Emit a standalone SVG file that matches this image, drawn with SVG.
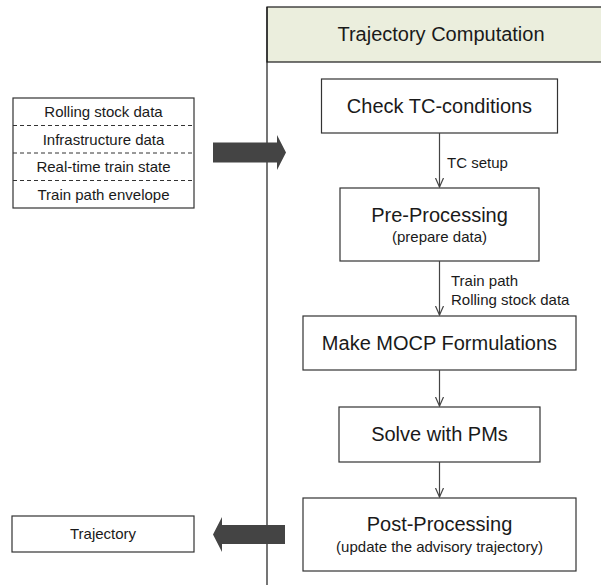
<svg xmlns="http://www.w3.org/2000/svg" width="601" height="585" viewBox="0 0 601 585">
<style>
.box{fill:#fff;stroke:#333;stroke-width:1.2}
.big{font-family:"Liberation Sans",Arial,sans-serif;font-size:20px;fill:#1a1a1a;text-anchor:middle}
.sm{font-family:"Liberation Sans",Arial,sans-serif;font-size:15px;fill:#1a1a1a;text-anchor:middle}
.lbl{font-family:"Liberation Sans",Arial,sans-serif;font-size:15px;fill:#1a1a1a}
.conn{stroke:#444;stroke-width:1.2;fill:none}
.fat{fill:#444}
</style>
<defs>
<marker id="open" markerWidth="10" markerHeight="14" refX="9" refY="7" orient="auto" markerUnits="userSpaceOnUse">
<path d="M0,3 L9,7 L0,11" fill="none" stroke="#444" stroke-width="1.2"/>
</marker>
</defs>
<rect width="601" height="585" fill="#fff"/>
<g id="lane">
<rect x="267" y="7" width="340" height="55" fill="#ebeedd" stroke="#1a1a1a" stroke-width="1.2"/>
<line x1="267" y1="7" x2="267" y2="585" stroke="#1a1a1a" stroke-width="1.2"/>
<text class="big" x="441" y="41">Trajectory Computation</text>
</g>
<g id="inputs">
<rect class="box" x="13" y="98" width="181" height="110"/>
<g stroke="#333" stroke-width="1" stroke-dasharray="4,3">
<line x1="13" y1="125.5" x2="194" y2="125.5"/>
<line x1="13" y1="153" x2="194" y2="153"/>
<line x1="13" y1="180.5" x2="194" y2="180.5"/>
</g>
<text class="sm" x="103.5" y="117">Rolling stock data</text>
<text class="sm" x="103.5" y="144.5">Infrastructure data</text>
<text class="sm" x="103.5" y="172">Real-time train state</text>
<text class="sm" x="103.5" y="199.5">Train path envelope</text>
</g>
<g id="trajectory">
<rect class="box" x="12" y="516" width="182" height="36"/>
<text class="sm" x="103" y="539">Trajectory</text>
</g>
<g id="check">
<rect class="box" x="321.5" y="79" width="236" height="54"/>
<text class="big" x="439.5" y="113">Check TC-conditions</text>
</g>
<g id="pre">
<rect class="box" x="340" y="188" width="199" height="73"/>
<text class="big" x="439.5" y="222">Pre-Processing</text>
<text class="sm" x="439.5" y="242">(prepare data)</text>
</g>
<g id="mocp">
<rect class="box" x="303" y="316" width="273" height="54"/>
<text class="big" x="439.5" y="350">Make MOCP Formulations</text>
</g>
<g id="solve">
<rect class="box" x="339" y="407" width="201" height="55"/>
<text class="big" x="439.5" y="441">Solve with PMs</text>
</g>
<g id="post">
<rect class="box" x="303" y="498" width="273" height="73"/>
<text class="big" x="439.5" y="531">Post-Processing</text>
<text class="sm" x="439.5" y="552">(update the advisory trajectory)</text>
</g>
<g id="connectors">
<line class="conn" x1="439.5" y1="133" x2="439.5" y2="187" marker-end="url(#open)"/>
<line class="conn" x1="439.5" y1="261" x2="439.5" y2="315" marker-end="url(#open)"/>
<line class="conn" x1="439.5" y1="370" x2="439.5" y2="406" marker-end="url(#open)"/>
<line class="conn" x1="439.5" y1="462" x2="439.5" y2="497" marker-end="url(#open)"/>
<text class="lbl" x="447" y="168">TC setup</text>
<text class="lbl" x="451" y="286">Train path</text>
<text class="lbl" x="451" y="305">Rolling stock data</text>
<polygon class="fat" points="213,142.5 277,142.5 277,135 286,152.5 277,170 277,162.5 213,162.5"/>
<polygon class="fat" points="285,525 222,525 222,517 213,534.5 222,552 222,544 285,544"/>
</g>
</svg>
